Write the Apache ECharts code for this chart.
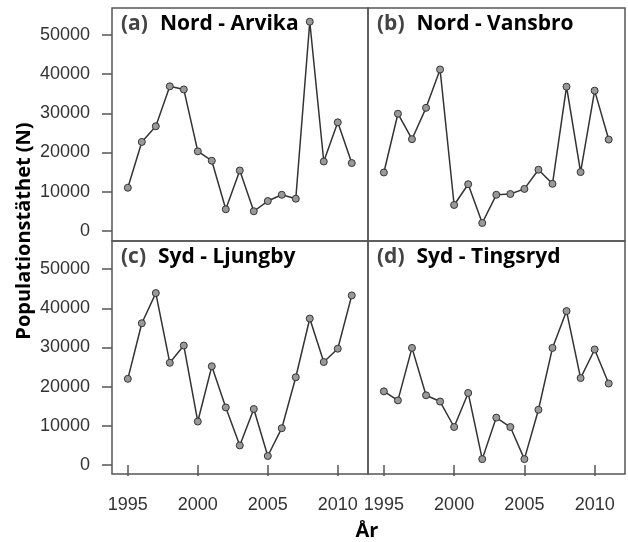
<!DOCTYPE html>
<html>
<head>
<meta charset="utf-8">
<script src="https://cdn.jsdelivr.net/npm/echarts@6/dist/echarts.min.js"></script>
<style>
    html, body { margin: 0; padding: 0; background: #fff; }
    #main { width: 628px; height: 542px; }
</style>
</head>
<body>
<div id="main"></div>
<script>
// data
let years = [1995, 1996, 1997, 1998, 1999, 2000, 2001, 2002, 2003, 2004, 2005, 2006, 2007, 2008, 2009, 2010, 2011];
let arvika = [11000, 22700, 26700, 36900, 36100, 20300, 17900, 5500, 15400, 5000, 7600, 9200, 8200, 53400, 17700, 27700, 17300];
let vansbro = [14900, 29900, 23400, 31400, 41200, 6600, 11900, 2000, 9200, 9400, 10700, 15600, 12000, 36800, 15000, 35800, 23300];
let ljungby = [22000, 36200, 43900, 26100, 30500, 11100, 25200, 14700, 5000, 14300, 2300, 9400, 22400, 37400, 26300, 29700, 43300];
let tingsryd = [18800, 16500, 29900, 17800, 16200, 9700, 18400, 1500, 12100, 9700, 1500, 14100, 29900, 39300, 22200, 29500, 20800];

let panelTags = ["(a)", "(b)", "(c)", "(d)"];
let panelNames = ["Nord - Arvika", "Nord - Vansbro", "Syd - Ljungby", "Syd - Tingsryd"];
let panelData = [arvika, vansbro, ljungby, tingsryd];

let xTicks = [1995, 2000, 2005, 2010];
let yTicks = [0, 10000, 20000, 30000, 40000, 50000];

// axis extents (panel frame edges), per column / row
let xMin = 1993.87;
let xMax = 2012.16;
let yMin = [-2600, -2300];
let yMax = [56900, 57200];

// frame edges in px
let frameX = [112, 368, 625];
let frameY = [8, 241, 474];

let chartDom = document.getElementById("main");
let myChart = echarts.init(chartDom);

let grids = [];
let xAxes = [];
let yAxes = [];
let series = [];
let titles = [];

panelData.forEach(function (values, i) {
    let col = i % 2;
    let row = Math.floor(i / 2);
    let fl = frameX[col];
    let ft = frameY[row];

    grids.push({
        left: fl,
        top: ft,
        width: frameX[col + 1] - fl,
        height: frameY[row + 1] - ft,
        show: true,
        borderColor: "#555",
        borderWidth: 1.5,
        z: 3,
    });

    xAxes.push({
        type: "value",
        gridIndex: i,
        min: xMin,
        max: xMax,
        axisLine: { show: false },
        axisTick: {
            show: row === 1,
            customValues: xTicks,
            length: 11,
            lineStyle: { color: "#555", width: 1.5 },
        },
        axisLabel: {
            show: row === 1,
            customValues: xTicks,
            margin: 22,
            fontSize: 18,
            fontFamily: "Liberation Sans",
            color: "#333",
            formatter: (v) => String(v),
        },
        splitLine: { show: false },
    });

    yAxes.push({
        type: "value",
        gridIndex: i,
        min: yMin[row],
        max: yMax[row],
        axisLine: { show: false },
        axisTick: {
            show: col === 0,
            customValues: yTicks,
            length: 10,
            lineStyle: { color: "#555", width: 1.5 },
        },
        axisLabel: {
            show: col === 0,
            customValues: yTicks,
            margin: 22,
            fontSize: 18,
            fontFamily: "Liberation Sans",
            color: "#333",
            formatter: (v) => String(v),
        },
        splitLine: { show: false },
    });

    series.push({
        type: "line",
        xAxisIndex: i,
        yAxisIndex: i,
        data: years.map((y, k) => [y, values[k]]),
        symbol: "circle",
        symbolSize: 7,
        lineStyle: { color: "#333", width: 1.5 },
        itemStyle: { color: "#999", borderColor: "#333", borderWidth: 1 },
    });

    titles.push({
        left: fl + 9,
        top: ft + 6,
        padding: 0,
        text: "{p|" + panelTags[i] + "}{n|" + panelNames[i] + "}",
        textStyle: {
            rich: {
                p: { fontFamily: "Open Sans", fontWeight: "bold", fontSize: 21, color: "#444" },
                n: { fontFamily: "Open Sans", fontWeight: "bold", fontSize: 21, color: "#000", padding: [0, 0, 0, 12] },
            },
        },
    });
});

let option = {
    animation: false,
    title: titles,
    grid: grids,
    xAxis: xAxes,
    yAxis: yAxes,
    series: series,
    graphic: {
        elements: [
            {
                type: "text",
                x: 24,
                y: 231,
                rotation: Math.PI / 2,
                style: {
                    text: "Populationstäthet (N)",
                    font: 'bold 20px "Open Sans"',
                    fill: "#000",
                    align: "center",
                    verticalAlign: "middle",
                },
            },
            {
                type: "text",
                x: 367,
                y: 531,
                style: {
                    text: "År",
                    font: 'bold 20px "Open Sans"',
                    fill: "#000",
                    align: "center",
                    verticalAlign: "middle",
                },
            },
        ],
    },
};

myChart.setOption(option);
</script>
</body>
</html>
